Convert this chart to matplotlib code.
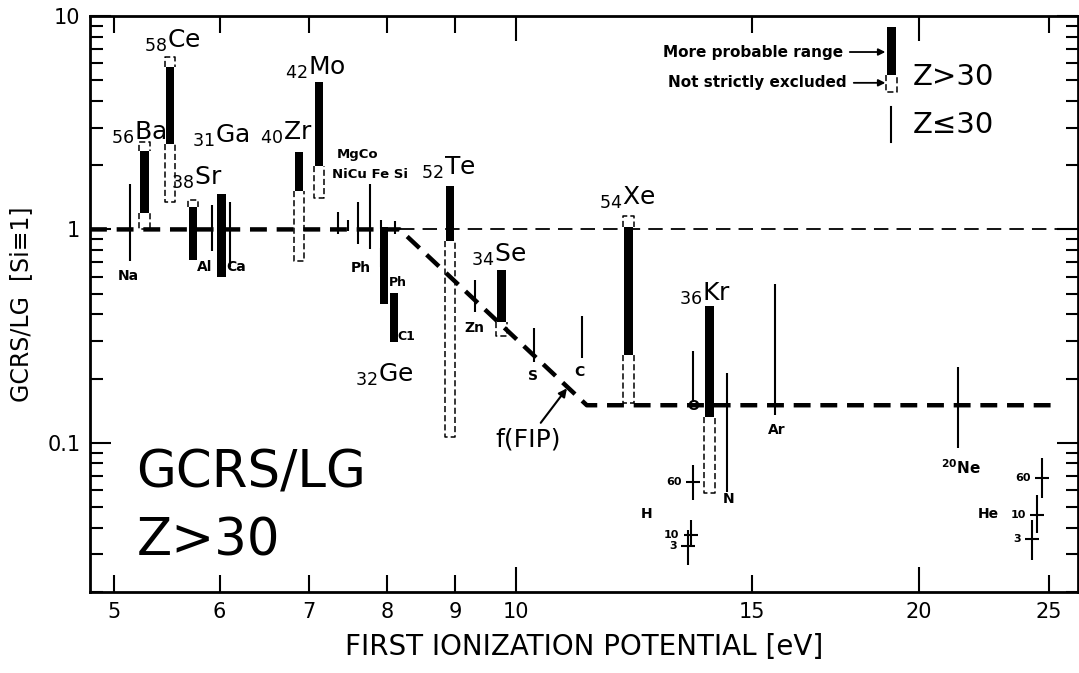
import numpy as np
import matplotlib
matplotlib.use('Agg')
import matplotlib.pyplot as plt
from matplotlib.patches import Rectangle
from matplotlib.ticker import FixedLocator, LogLocator, NullFormatter, FormatStrFormatter

plt.rcParams['font.family'] = ['DejaVu Sans']
plt.rcParams['mathtext.default'] = 'regular'

# Z>30 elements: FIP [eV], more probable range, not strictly excluded range
heavy_z = [56, 58, 38, 31, 40, 42, 52, 34, 54, 36]
heavy_el = ['Ba', 'Ce', 'Sr', 'Ga', 'Zr', 'Mo', 'Te', 'Se', 'Xe', 'Kr']
heavy_fip = [5.27, 5.51, 5.73, 6.02, 6.88, 7.12, 8.92, 9.75, 12.13, 13.95]
prob_lo = [1.20, 2.51, 0.72, 0.60, 1.51, 1.98, 0.88, 0.370, 0.259, 0.132]
prob_hi = [2.32, 5.76, 1.27, 1.46, 2.30, 4.90, 1.59, 0.642, 1.03, 0.44]
excl_lo = [1.00, 1.34, 0.72, 0.60, 0.71, 1.41, 0.107, 0.315, 0.154, 0.0583]
excl_hi = [2.56, 6.42, 1.38, 1.46, 2.30, 4.90, 1.59, 0.642, 1.15, 0.44]
heavy_lab_x = [5.22, 5.53, 5.77, 6.01, 6.73, 7.08, 8.89, 9.70, 12.11, 13.83]
heavy_lab_y = [2.45, 6.63, 1.51, 2.38, 2.45, 4.95, 1.68, 0.663, 1.215, 0.435]

# Ge: two ranges (Ph, C1)
ge_fip = [7.96, 8.10]
ge_lo = [0.445, 0.298]
ge_hi = [1.03, 0.506]
ge_sub = ['Ph', 'C1']
ge_sub_x = [8.15, 8.27]
ge_sub_y = [0.564, 0.315]
ge_lab_x, ge_lab_y = 7.96, 0.181

# Z<30 elements (thin lines)
light_fip = [5.14, 5.92, 6.11, 7.36, 7.48, 7.62, 7.77, 7.92, 7.92, 8.11,
             9.32, 10.3, 11.19, 13.55, 14.38, 15.6, 21.4]
light_lo = [0.71, 0.79, 0.67, 0.95, 0.98, 0.85, 0.81, 1.00, 0.67, 0.95,
            0.408, 0.240, 0.251, 0.156, 0.0589, 0.135, 0.0947]
light_hi = [1.63, 1.30, 1.35, 1.21, 1.11, 1.35, 1.63, 1.11, 0.82, 1.09,
            0.582, 0.347, 0.391, 0.268, 0.213, 0.552, 0.227]
light_lab = ['Na', 'Al', 'Ca', 'Ph', 'Zn', 'S', 'C', 'O', 'N', 'Ar', 'H', 'He']
light_lab_x = [5.13, 5.85, 6.17, 7.65, 9.31, 10.29, 11.15, 13.57, 14.42, 15.65, 12.52, 22.54]
light_lab_y = [0.608, 0.670, 0.670, 0.663, 0.347, 0.206, 0.215, 0.148, 0.0546, 0.115, 0.0464, 0.0464]

# H and He at 3, 10, 60 (MeV/n)
cross_lab = ['60', '10', '3']
h_fip = [13.55, 13.50, 13.43]
h_val = [0.0656, 0.0370, 0.0328]
h_lo = [0.054, 0.0332, 0.0267]
h_hi = [0.0788, 0.0435, 0.0391]
he_fip = [24.7, 24.5, 24.3]
he_val = [0.0685, 0.0459, 0.0354]
he_lo = [0.0552, 0.0378, 0.0282]
he_hi = [0.0851, 0.057, 0.0435]

# f(FIP) step function and Si reference line
ffip_x = [4.8, 8.18, 11.29, 25.4]
ffip_y = [1.0, 1.0, 0.15, 0.15]
ref_x = [8.18, 26.3]
ref_y = [1.0, 1.0]

XLIM = (4.8, 26.3)
YLIM = (0.02, 10)

BAR_HW = 0.0032   # half width of solid bars, decades
EXC_HW = 0.0040   # half width of dashed outline, decades
DASH = (0, (4, 2))


def xspan(x, half):
    return x * 10 ** -half, x * 10 ** half


def excl_piece(ax, x0, x1, y_in, y_out, **kw):
    # open dashed box from the solid bar end out to the excluded limit
    ax.plot([x0, x0, x1, x1], [y_in, y_out, y_out, y_in], color='k', lw=1.1,
            ls=DASH, solid_capstyle='butt', **kw)


fig = plt.figure(figsize=(10.79, 6.73), dpi=100)
ax = fig.add_axes([0.0834, 0.1204, 0.9157, 0.8558])
ax.set_xscale('log')
ax.set_yscale('log')
ax.set_xlim(*XLIM)
ax.set_ylim(*YLIM)

# dashed lines
ax.plot(ref_x, ref_y, color='k', lw=1.3, dashes=(8, 4.5), zorder=1)
ax.plot(ffip_x, ffip_y, color='k', lw=3.2, dashes=(3.8, 2.2), zorder=1)

# Z<30 lines
ax.vlines(light_fip, light_lo, light_hi, colors='k', lw=1.5, zorder=2)

# Z>30 bars
for x, lo, hi, elo, ehi in zip(heavy_fip, prob_lo, prob_hi, excl_lo, excl_hi):
    e0, e1 = xspan(x, EXC_HW)
    if ehi > hi:
        excl_piece(ax, e0, e1, hi, ehi, zorder=3)
    if elo < lo:
        excl_piece(ax, e0, e1, lo, elo, zorder=3)
    x0, x1 = xspan(x, BAR_HW)
    ax.add_patch(Rectangle((x0, lo), x1 - x0, hi - lo, fc='k', ec='none', zorder=4))

for x, lo, hi in zip(ge_fip, ge_lo, ge_hi):
    x0, x1 = xspan(x, BAR_HW)
    ax.add_patch(Rectangle((x0, lo), x1 - x0, hi - lo, fc='k', ec='none', zorder=4))

# heavy element labels
for z, el, lx, ly in zip(heavy_z, heavy_el, heavy_lab_x, heavy_lab_y):
    ax.text(lx, ly, r'$\mathregular{_{%d}%s}$' % (z, el), fontsize=18,
            ha='center', va='bottom')
ax.text(ge_lab_x, ge_lab_y, r'$\mathregular{_{32}Ge}$', fontsize=18,
        ha='center', va='bottom')
for s, lx, ly in zip(ge_sub, ge_sub_x, ge_sub_y):
    ax.text(lx, ly, s, fontsize=9, fontweight='bold', ha='center', va='center')

# light element labels
for s, lx, ly in zip(light_lab, light_lab_x, light_lab_y):
    ax.text(lx, ly, s, fontsize=10, fontweight='bold', ha='center', va='center')
ax.text(7.34, 2.25, 'MgCo', fontsize=9.5, fontweight='bold', ha='left', va='center')
ax.text(7.28, 1.81, 'NiCu Fe Si', fontsize=9.5, fontweight='bold', ha='left', va='center')
ax.text(21.48, 0.0763, r'$\mathbf{^{20}Ne}$', fontsize=11, ha='center', va='center')

# H and He crosses
for xs, vs, los, his in ((h_fip, h_val, h_lo, h_hi), (he_fip, he_val, he_lo, he_hi)):
    ax.vlines(xs, los, his, colors='k', lw=1.5)
    ax.plot(xs, vs, ls='none', marker='_', ms=10, mew=1.5, color='k')
    for x, v, s in zip(xs, vs, cross_lab):
        ax.annotate(s, (x, v), xytext=(-8, 0), textcoords='offset points',
                    fontsize=8, fontweight='bold', ha='right', va='center')

# f(FIP) pointer
ax.annotate('f(FIP)', xy=(10.91, 0.18), xytext=(10.2, 0.1033), fontsize=18,
            ha='center', va='center',
            arrowprops=dict(arrowstyle='-|>', color='k', lw=1.5,
                            mutation_scale=12, shrinkA=2, shrinkB=0))

# big title
ax.text(0.047, 0.182, 'GCRS/LG', transform=ax.transAxes, fontsize=37, va='baseline')
ax.text(0.047, 0.064, 'Z>30', transform=ax.transAxes, fontsize=37, va='baseline')

# legend
lx = 0.811
hw = 0.0043
ew = 0.0054
ax.plot([lx - ew, lx - ew, lx + ew, lx + ew], [0.8976, 0.868, 0.868, 0.8976],
        transform=ax.transAxes, color='k', lw=1.1, ls=DASH, zorder=3)
ax.add_patch(Rectangle((lx - hw, 0.8976), 2 * hw, 0.981 - 0.8976,
                       transform=ax.transAxes, fc='k', ec='none', zorder=4))
ax.plot([lx, lx], [0.781, 0.842], transform=ax.transAxes, color='k', lw=1.5)
arrow = dict(arrowstyle='-|>', color='k', lw=1.3, mutation_scale=10, shrinkA=3, shrinkB=0)
ax.annotate('More probable range', xy=(0.805, 0.9375), xycoords='axes fraction',
            xytext=(0.762, 0.9375), textcoords='axes fraction', fontsize=11,
            fontweight='bold', ha='right', va='center', arrowprops=arrow)
ax.annotate('Not strictly excluded', xy=(0.805, 0.884), xycoords='axes fraction',
            xytext=(0.766, 0.884), textcoords='axes fraction', fontsize=11,
            fontweight='bold', ha='right', va='center', arrowprops=arrow)
ax.text(0.833, 0.894, 'Z>30', transform=ax.transAxes, fontsize=21, va='center')
ax.text(0.833, 0.811, 'Z\u226430', transform=ax.transAxes, fontsize=21, va='center')

# axes and ticks
ax.xaxis.set_major_locator(FixedLocator([10, 20]))
ax.xaxis.set_minor_locator(FixedLocator([5, 6, 7, 8, 9, 15, 25]))
ax.xaxis.set_major_formatter(FormatStrFormatter('%g'))
ax.xaxis.set_minor_formatter(FormatStrFormatter('%g'))
ax.yaxis.set_major_locator(FixedLocator([0.1, 1, 10]))
ax.yaxis.set_minor_locator(LogLocator(base=10, subs=np.arange(2, 10)))
ax.yaxis.set_major_formatter(FormatStrFormatter('%g'))
ax.yaxis.set_minor_formatter(NullFormatter())
ax.tick_params(which='both', direction='in', top=True, right=True, width=1.5,
               labelsize=15, pad=7)
ax.tick_params(axis='x', which='major', length=18)
ax.tick_params(axis='x', which='minor', length=12)
ax.tick_params(axis='y', which='major', length=15)
ax.tick_params(axis='y', which='minor', length=9)
for sp in ax.spines.values():
    sp.set_linewidth(2)

ax.set_xlabel('FIRST IONIZATION POTENTIAL [eV]', fontsize=20, labelpad=8)
ax.set_ylabel('GCRS/LG  [Si\u22611]', fontsize=17, labelpad=10)

fig.savefig('out.png', dpi=100)
